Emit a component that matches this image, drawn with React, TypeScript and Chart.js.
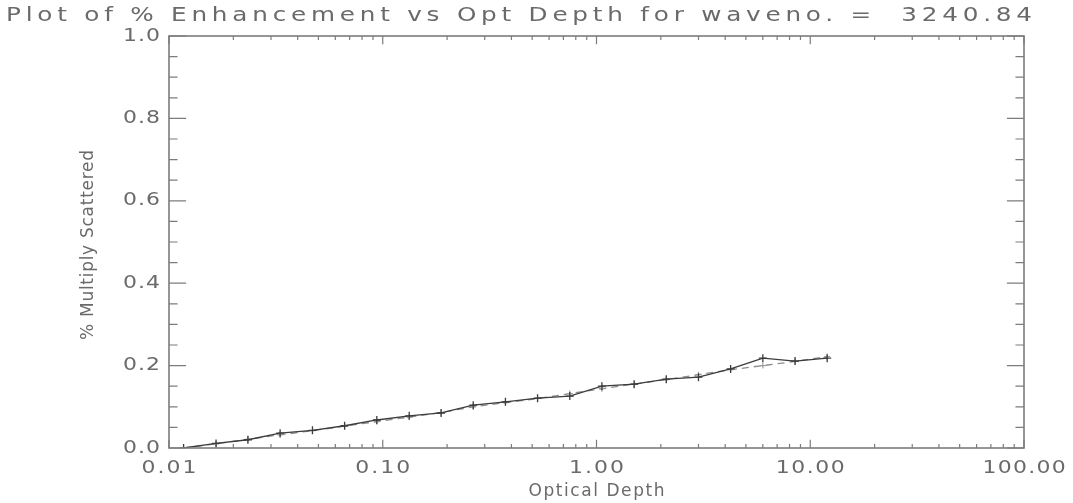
import React, { useEffect, useRef } from 'react';
import { Chart, registerables } from 'chart.js';

Chart.register(...registerables);

// Optical depth samples (log-spaced by sqrt(2))
const depths = [0.0117, 0.0166, 0.0234, 0.0331, 0.0469, 0.0663, 0.0938, 0.133, 0.1875, 0.265, 0.375, 0.53, 0.75, 1.06, 1.5, 2.12, 3.0, 4.24, 6.0, 8.49, 12.0];
// Computed multiply-scattered fraction
const scattered = [0.0, 0.011, 0.02, 0.036, 0.043, 0.054, 0.068, 0.078, 0.085, 0.104, 0.112, 0.121, 0.126, 0.15, 0.155, 0.167, 0.172, 0.192, 0.218, 0.211, 0.218];
// Smoothed comparison curve
const fitted = [0.0, 0.01, 0.021, 0.032, 0.042, 0.053, 0.064, 0.075, 0.086, 0.1, 0.11, 0.12, 0.132, 0.144, 0.155, 0.166, 0.178, 0.19, 0.2, 0.21, 0.222];

const xTickValues = [0.01, 0.1, 1, 10, 100];
const xTickLabels = ['0.01', '0.10', '1.00', '10.00', '100.00'];
const yTickValues = [0, 0.2, 0.4, 0.6, 0.8, 1.0];
const yTickLabels = ['0.0', '0.2', '0.4', '0.6', '0.8', '1.0'];

const titleText = 'Plot of % Enhancement vs Opt Depth for waveno. =  3240.84';
const xTitleText = 'Optical Depth';
const yTitleText = '% Multiply Scattered';

const FONT = '"DejaVu Sans", sans-serif';
const TEXT_COLOR = '#6a6a6a';
const AXIS_COLOR = '#7c7c7c';

// Draws text widened (glyph stretch plus letter spacing) to a given visual width.
function drawFit(
  ctx: CanvasRenderingContext2D,
  text: string,
  x: number,
  y: number,
  width: number,
  align: 'left' | 'center' | 'right',
  stretch: number,
) {
  const c = ctx as any;
  c.letterSpacing = '0px';
  const w = ctx.measureText(text).width * stretch;
  const s = text.length > 1 ? (width - w) / (text.length - 1) : 0;
  let left = x;
  if (align === 'center') left = x - width / 2;
  if (align === 'right') left = x - width;
  ctx.save();
  ctx.translate(left, y);
  ctx.scale(stretch, 1);
  c.letterSpacing = `${s / stretch}px`;
  ctx.textAlign = 'left';
  ctx.fillText(text, 0, 0);
  ctx.restore();
  c.letterSpacing = '0px';
}

// Boxed frame with inward major/minor ticks on all four sides, plus labels.
const framePlugin = {
  id: 'boxFrame',
  afterDraw(chart: any) {
    const { ctx, chartArea: a, scales } = chart;
    const xs = scales.x;
    const ys = scales.y;
    const h = a.bottom - a.top;
    const w = a.right - a.left;
    const xMajor = 0.02 * h;
    const yMajor = 0.02 * w;

    ctx.save();
    ctx.strokeStyle = AXIS_COLOR;
    ctx.lineWidth = 1.6;
    ctx.strokeRect(a.left, a.top, w, h);

    ctx.lineWidth = 1.2;
    ctx.beginPath();
    // x ticks: decades and 2..9 minors
    for (let d = 0; d < xTickValues.length; d++) {
      const base = xTickValues[d];
      const px = xs.getPixelForValue(base);
      ctx.moveTo(px, a.bottom); ctx.lineTo(px, a.bottom - xMajor);
      ctx.moveTo(px, a.top); ctx.lineTo(px, a.top + xMajor);
      if (d < xTickValues.length - 1) {
        for (let k = 2; k <= 9; k++) {
          const mx = xs.getPixelForValue(base * k);
          ctx.moveTo(mx, a.bottom); ctx.lineTo(mx, a.bottom - xMajor / 2);
          ctx.moveTo(mx, a.top); ctx.lineTo(mx, a.top + xMajor / 2);
        }
      }
    }
    // y ticks: majors every 0.2, minors every 0.05
    for (let i = 0; i < yTickValues.length; i++) {
      const v = yTickValues[i];
      const py = ys.getPixelForValue(v);
      ctx.moveTo(a.left, py); ctx.lineTo(a.left + yMajor, py);
      ctx.moveTo(a.right, py); ctx.lineTo(a.right - yMajor, py);
      if (i < yTickValues.length - 1) {
        const step = (yTickValues[i + 1] - v) / 4;
        for (let k = 1; k < 4; k++) {
          const my = ys.getPixelForValue(v + k * step);
          ctx.moveTo(a.left, my); ctx.lineTo(a.left + yMajor / 2, my);
          ctx.moveTo(a.right, my); ctx.lineTo(a.right - yMajor / 2, my);
        }
      }
    }
    ctx.stroke();

    ctx.fillStyle = TEXT_COLOR;
    ctx.textBaseline = 'middle';
    ctx.font = `18px ${FONT}`;
    xTickLabels.forEach((lab, i) => {
      const px = xs.getPixelForValue(xTickValues[i]);
      const width = lab.length * 14.2 - 2;
      drawFit(ctx, lab, px, a.bottom + 20, width, 'center', 1.22);
    });
    yTickLabels.forEach((lab, i) => {
      const py = ys.getPixelForValue(yTickValues[i]);
      drawFit(ctx, lab, a.left - 9, py, 37, 'right', 1.22);
    });

    // Title
    ctx.font = `19px ${FONT}`;
    drawFit(ctx, titleText, 6, 16, 1026, 'left', 1.3);

    // Axis titles
    ctx.font = `17px ${FONT}`;
    drawFit(ctx, xTitleText, (a.left + a.right) / 2, a.bottom + 44, 136, 'center', 1.0);

    ctx.save();
    ctx.translate(89, (a.top + a.bottom) / 2 + 3);
    ctx.rotate(-Math.PI / 2);
    drawFit(ctx, yTitleText, 0, 0, 190, 'center', 1.0);
    ctx.restore();

    ctx.restore();
  },
};

export default function App() {
  const canvasRef = useRef<HTMLCanvasElement | null>(null);

  useEffect(() => {
    const canvas = canvasRef.current;
    if (!canvas) return;
    const chart = new Chart(canvas, {
      type: 'line',
      data: {
        datasets: [
          {
            label: 'scattered',
            data: depths.map((d, i) => ({ x: d, y: scattered[i] })),
            borderColor: '#3c3c3c',
            borderWidth: 1.3,
            pointStyle: 'cross',
            pointRadius: 4,
            pointBorderWidth: 1.3,
            pointBorderColor: '#3c3c3c',
            pointBackgroundColor: '#3c3c3c',
            tension: 0,
            fill: false,
          },
          {
            label: 'fitted',
            data: depths.map((d, i) => ({ x: d, y: fitted[i] })),
            borderColor: '#8c8c8c',
            borderWidth: 1.3,
            borderDash: [7, 5],
            pointStyle: 'cross',
            pointRadius: 3,
            pointBorderWidth: 1.1,
            pointBorderColor: '#9a9a9a',
            pointBackgroundColor: '#9a9a9a',
            tension: 0,
            fill: false,
          },
        ],
      },
      options: {
        animation: false,
        responsive: false,
        maintainAspectRatio: false,
        layout: { padding: { left: 169, right: 49, top: 36, bottom: 55 } },
        plugins: {
          legend: { display: false },
          tooltip: { enabled: false },
          title: { display: false },
        },
        scales: {
          x: { type: 'logarithmic', min: 0.01, max: 100, display: false },
          y: { type: 'linear', min: 0, max: 1, display: false },
        },
      },
      plugins: [framePlugin],
    });
    return () => chart.destroy();
  }, []);

  return (
    <div style={{ position: 'fixed', left: 0, top: 0, width: 1073, height: 503, background: '#ffffff' }}>
      <canvas ref={canvasRef} width={1073} height={503} style={{ display: 'block', width: 1073, height: 503 }} />
    </div>
  );
}
